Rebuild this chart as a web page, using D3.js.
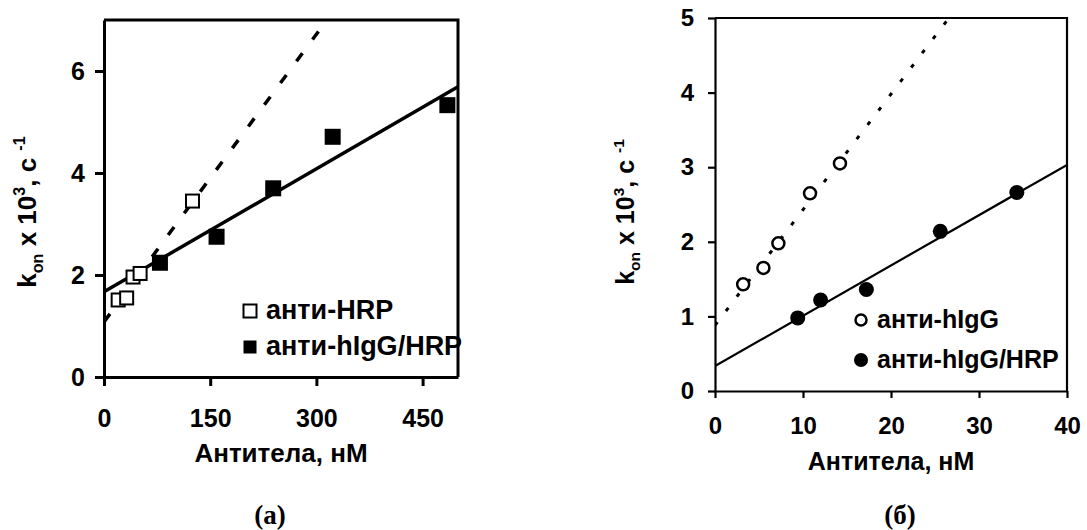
<!DOCTYPE html>
<html><head><meta charset="utf-8">
<script src="https://cdn.jsdelivr.net/npm/d3@7"></script>
<style>body{margin:0;background:#fff}svg{display:block}text{font-family:"Liberation Sans",Arial,sans-serif;font-weight:bold;fill:#000}</style>
</head><body>
<svg id="c" width="1087" height="530"></svg>
<script>
// Panel (a)
const aXTicks = [0, 150, 300, 450];
const aYTicks = [0, 2, 4, 6];
const aHrpX = [20, 32, 41, 51, 125];
const aHrpY = [1.51, 1.55, 1.96, 2.03, 3.45];
const aIggHrpX = [79, 159, 239, 323, 485];
const aIggHrpY = [2.24, 2.75, 3.70, 4.71, 5.33];
const aFitHrp = [1.08, 0.0188];      // intercept, slope
const aFitIggHrp = [1.67, 0.00804];
const aLegend = ["анти-HRP", "анти-hIgG/HRP"];
// Panel (б)
const bXTicks = [0, 10, 20, 30, 40];
const bYTicks = [0, 1, 2, 3, 4, 5];
const bIggX = [3.2, 5.5, 7.2, 10.8, 14.2];
const bIggY = [1.43, 1.65, 1.98, 2.65, 3.05];
const bIggHrpX = [9.4, 12.0, 17.2, 25.6, 34.3];
const bIggHrpY = [0.98, 1.22, 1.36, 2.14, 2.66];
const bFitIgg = [0.88, 0.155];
const bFitIggHrp = [0.335, 0.0674];
const bLegend = ["анти-hIgG", "анти-hIgG/HRP"];
const xTitle = "Антитела, нМ";

const svg = d3.select("#c");

function yLabel(g, x, y, size) {
  const t = g.append("text").attr("transform", `translate(${x},${y}) rotate(-90)`)
    .attr("text-anchor", "middle").style("font-size", size + "px");
  t.append("tspan").text("k");
  t.append("tspan").text("on").style("font-size", (size * 0.62) + "px").attr("dy", size * 0.25);
  t.append("tspan").text(" x 10").attr("dy", -size * 0.25);
  t.append("tspan").text("3").style("font-size", (size * 0.62) + "px").attr("dy", -size * 0.42);
  t.append("tspan").text(", с ").attr("dy", size * 0.42);
  t.append("tspan").text("-1").style("font-size", (size * 0.62) + "px").attr("dy", -size * 0.42);
}

function panel(o) {
  const x = d3.scaleLinear().domain(o.xd).range([o.l, o.r]);
  const y = d3.scaleLinear().domain(o.yd).range([o.b, o.t]);
  const g = svg.append("g");
  const id = "clip" + o.name;
  svg.append("clipPath").attr("id", id).append("rect")
    .attr("x", o.l).attr("y", o.t).attr("width", o.r - o.l).attr("height", o.b - o.t);

  const line = d3.line().x(d => x(d[0])).y(d => y(d[1]));
  o.fits.forEach(f => {
    const pts = [o.xd[0], o.xd[1]].map(v => [v, f.p[0] + f.p[1] * v]);
    g.append("path").attr("d", line(pts)).attr("clip-path", `url(#${id})`)
      .attr("fill", "none").attr("stroke", "#000").attr("stroke-width", f.w)
      .attr("stroke-dasharray", f.dash || null);
  });

  g.append("path").attr("d", `M${o.l},${o.t}H${o.r}V${o.b}`).attr("fill", "none")
    .attr("stroke", "#000").attr("stroke-width", o.aw);

  const fmt = d3.format("d");
  const ax = g.append("g").attr("transform", `translate(0,${o.b})`)
    .call(d3.axisBottom(x).tickValues(o.xt).tickFormat(fmt).tickSize(o.ts).tickPadding(o.xpad).tickSizeOuter(0));
  const ay = g.append("g").attr("transform", `translate(${o.l},0)`)
    .call(d3.axisLeft(y).tickValues(o.yt).tickFormat(fmt).tickSize(o.ts).tickPadding(o.ypad).tickSizeOuter(0));
  [ax, ay].forEach(a => {
    a.attr("font-size", o.fs).attr("font-family", "Liberation Sans, Arial").attr("font-weight", "bold");
    a.select(".domain").attr("stroke-width", o.aw);
    a.selectAll(".tick line").attr("stroke-width", o.aw);
    a.selectAll(".tick text").style("font-size", o.fs + "px");
  });

  o.series.forEach(s => {
    const data = s.x.map((v, i) => [v, s.y[i]]);
    if (s.shape === "square") {
      g.selectAll(null).data(data).join("rect")
        .attr("x", d => x(d[0]) - s.size / 2).attr("y", d => y(d[1]) - s.size / 2)
        .attr("width", s.size).attr("height", s.size)
        .attr("fill", s.filled ? "#000" : "#fff").attr("stroke", "#000").attr("stroke-width", s.filled ? 0 : 2);
    } else {
      g.selectAll(null).data(data).join("circle")
        .attr("cx", d => x(d[0])).attr("cy", d => y(d[1])).attr("r", s.size / 2)
        .attr("fill", s.filled ? "#000" : "#fff").attr("stroke", "#000").attr("stroke-width", s.filled ? 0 : 2.5);
    }
  });

  o.legend.forEach((txt, i) => {
    const s = o.series[i];
    const ly = o.legY[i];
    if (s.shape === "square") {
      const sz = 13;
      g.append("rect").attr("x", o.legX - sz / 2).attr("y", ly - sz / 2).attr("width", sz).attr("height", sz)
        .attr("fill", s.filled ? "#000" : "#fff").attr("stroke", "#000").attr("stroke-width", s.filled ? 0 : 2);
    } else {
      g.append("circle").attr("cx", o.legX).attr("cy", ly).attr("r", s.filled ? 7 : 5.5)
        .attr("fill", s.filled ? "#000" : "#fff").attr("stroke", "#000").attr("stroke-width", s.filled ? 0 : 2.5);
    }
    g.append("text").attr("x", o.legX + o.legGap).attr("y", ly + 8).style("font-size", o.lfs + "px").text(txt);
  });

  g.append("text").attr("x", (o.l + o.r) / 2 + o.xtdx).attr("y", o.xtY).attr("text-anchor", "middle")
    .style("font-size", o.tfs + "px").text(xTitle);
  yLabel(g, o.ylX, o.ylY, o.tfs);
  g.append("text").attr("x", o.capX).attr("y", 524).attr("text-anchor", "middle")
    .style("font-family", "Liberation Serif, Times New Roman, serif").style("font-size", "27px").text(o.cap);
}

panel({
  name: "a", xd: [0, 500], yd: [0, 7], l: 104, r: 458, t: 20, b: 377,
  xt: aXTicks, yt: aYTicks, ts: 9, xpad: 23, ypad: 10, aw: 3, fs: 25,
  fits: [{p: aFitHrp, w: 3.5, dash: "10,17"}, {p: aFitIggHrp, w: 3.5}],
  series: [{x: aHrpX, y: aHrpY, shape: "square", filled: false, size: 13},
           {x: aIggHrpX, y: aIggHrpY, shape: "square", filled: true, size: 16}],
  legend: aLegend, legX: 250, legY: [311, 347], legGap: 16, lfs: 27,
  xtY: 462, xtdx: 0, tfs: 26, ylX: 36, ylY: 212, capX: 270, cap: "(a)"
});

panel({
  name: "b", xd: [0, 40], yd: [0, 5], l: 715, r: 1067, t: 18, b: 391,
  xt: bXTicks, yt: bYTicks, ts: 7, xpad: 19, ypad: 14, aw: 2.2, fs: 24,
  fits: [{p: bFitIgg, w: 3, dash: "4,14"}, {p: bFitIggHrp, w: 2.2}],
  series: [{x: bIggX, y: bIggY, shape: "circle", filled: false, size: 12},
           {x: bIggHrpX, y: bIggHrpY, shape: "circle", filled: true, size: 15}],
  legend: bLegend, legX: 861, legY: [320, 360], legGap: 16, lfs: 25,
  xtY: 470, xtdx: 0, tfs: 25, ylX: 634, ylY: 212, capX: 900, cap: "(б)"
});
</script>
</body></html>
